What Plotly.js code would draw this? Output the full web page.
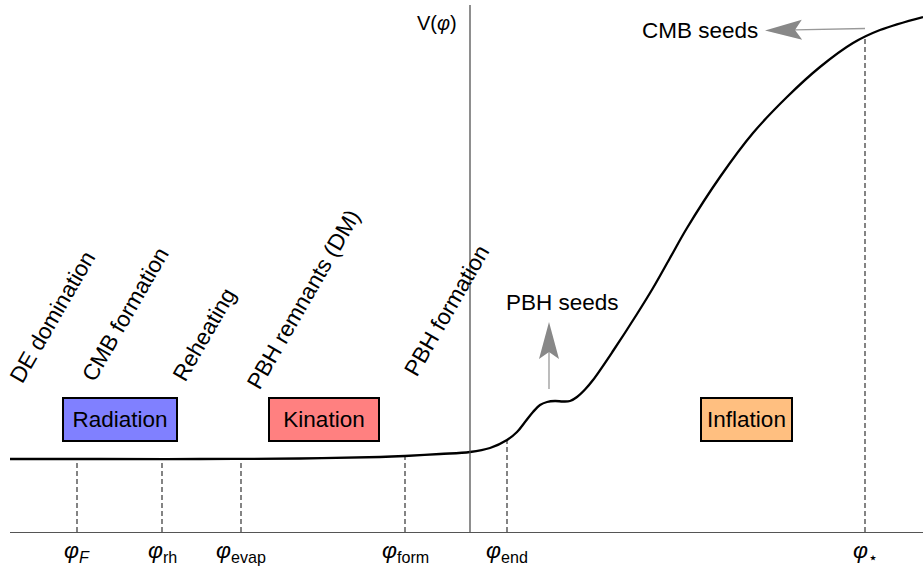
<!DOCTYPE html>
<html>
<head>
<meta charset="utf-8">
<script src="https://cdn.plot.ly/plotly-3.0.1.min.js"></script>
<style>html,body{margin:0;padding:0;background:#fff}#chart{width:923px;height:566px}</style>
</head>
<body>
<div id="chart"></div>
<script>
// ---- data (field value phi, potential V above the phi axis) ----
const phi = [10, 100, 200, 300, 380, 405, 440, 470, 490, 507, 517, 525, 533, 540, 547, 555, 563, 570, 577, 585, 593, 613, 637, 653, 670, 687, 720, 753, 787, 820, 853, 880, 923];
const V   = [73, 73, 73, 73.5, 75, 76, 78, 80, 84, 92, 100, 110, 120, 127, 130, 131, 130.5, 131, 135, 142.5, 152, 181, 218, 244, 274, 304, 355, 399, 435, 465, 489, 502, 515];

const tickPhi  = [77, 162, 241, 405, 507, 865];
const tickV    = [73, 73, 73, 76, 92, 494];
const tickText = ['<i>φ</i><sub><i>F</i></sub>', '<i>φ</i><sub>rh</sub>', '<i>φ</i><sub>evap</sub>',
                  '<i>φ</i><sub>form</sub>', '<i>φ</i><sub>end</sub>', '<i>φ</i><sub>⋆</sub>'];

const eventLabels = ['DE domination', 'CMB formation', 'Reheating', 'PBH remnants (DM)', 'PBH formation'];
const eraLabels   = ['Radiation', 'Kination', 'Inflation'];
const axisLabel   = 'V(<i>φ</i>)';
const seedLabels  = ['PBH seeds', 'CMB seeds'];

// ---- layout helpers ----
const FONT = 'Liberation Sans, Arial, Helvetica, sans-serif';
const VTOP = 532;
const eventPos = [[10.5, 150], [82, 152], [173, 152], [247, 144], [405, 157]];
const eraPos = [[119.5, 113], [323.5, 113], [746.5, 113]];
const eraColor = ['#8080ff', '#ff8080', '#ffbf80'];
const eraWidth = [112, 108, 89];

// dashed guides from the axis up to the curve
const gx = [], gy = [];
tickPhi.forEach((p, i) => { gx.push(p, p, null); gy.push(0, tickV[i], null); });

const traces = [
  {x: gx, y: gy, mode: 'lines', line: {color: '#333', width: 1.2, dash: '5px,3px'}, hoverinfo: 'skip', showlegend: false},
  {x: phi, y: V, mode: 'lines', line: {color: '#000', width: 2.3, shape: 'spline', smoothing: 1}, hoverinfo: 'skip', showlegend: false}
];

function arrow(tail, tip) {
  const dx = tip[0] - tail[0], dy = tip[1] - tail[1];
  const L = Math.hypot(dx, dy), ux = dx / L, uy = dy / L, nx = -uy, ny = ux;
  const len = 37, hw = 10, notch = 7;
  const bx = tip[0] - len * ux, by = tip[1] - len * uy;
  const mx = tip[0] - (len - notch) * ux, my = tip[1] - (len - notch) * uy;
  return [
    {type: 'line', xref: 'x', yref: 'y', x0: tail[0], y0: tail[1], x1: mx, y1: my, line: {color: '#999', width: 1.3}},
    {type: 'path', xref: 'x', yref: 'y',
     path: `M${tip[0]},${tip[1]} L${bx + hw * nx},${by + hw * ny} L${mx},${my} L${bx - hw * nx},${by - hw * ny} Z`,
     fillcolor: '#888', line: {width: 0}}
  ];
}

const shapes = [
  {type: 'line', xref: 'x', yref: 'y', x0: 470, x1: 470, y0: 0, y1: VTOP - 5, line: {color: '#444', width: 1.2}},
  ...arrow([549, VTOP - 389], [549, VTOP - 322]),
  ...arrow([865, VTOP - 28.5], [765, VTOP - 30.5])
];

const annotations = [];
eventLabels.forEach((t, i) => annotations.push({
  text: t, x: eventPos[i][0], y: eventPos[i][1], xref: 'x', yref: 'y', xanchor: 'left', yanchor: 'bottom',
  xshift: -8, yshift: -8,
  textangle: -60, showarrow: false, font: {family: FONT, size: 22.5, color: '#000'}
}));
eraLabels.forEach((t, i) => annotations.push({
  text: t, x: eraPos[i][0], y: eraPos[i][1], xref: 'x', yref: 'y', xanchor: 'center', yanchor: 'middle',
  showarrow: false, bgcolor: eraColor[i], bordercolor: '#000', borderwidth: 2, borderpad: 0,
  width: eraWidth[i], height: 41, font: {family: FONT, size: 22.5, color: '#000'}
}));
tickPhi.forEach((p, i) => annotations.push({
  text: tickText[i], x: p, y: 0, xref: 'x', yref: 'y', xanchor: 'center', yanchor: 'middle', yshift: -19,
  showarrow: false, font: {family: FONT, size: 23, color: '#000'}
}));
annotations.push({text: axisLabel, x: 437, y: VTOP - 23, xref: 'x', yref: 'y', xanchor: 'center', yanchor: 'middle',
  showarrow: false, font: {family: FONT, size: 20, color: '#000'}});
annotations.push({text: seedLabels[0], x: 562, y: VTOP - 302, xref: 'x', yref: 'y', xanchor: 'center', yanchor: 'middle',
  showarrow: false, font: {family: FONT, size: 22.5, color: '#000'}});
annotations.push({text: seedLabels[1], x: 700, y: VTOP - 30, xref: 'x', yref: 'y', xanchor: 'center', yanchor: 'middle',
  showarrow: false, font: {family: FONT, size: 22.5, color: '#000'}});

const layout = {
  width: 923, height: 566,
  margin: {l: 10, r: 0, t: 0, b: 34, pad: 0},
  paper_bgcolor: '#fff', plot_bgcolor: '#fff',
  showlegend: false,
  xaxis: {range: [10, 923], showgrid: false, zeroline: false, showline: true, linecolor: '#555', linewidth: 1.2,
          showticklabels: false, ticks: '', fixedrange: true},
  yaxis: {range: [0, VTOP], visible: false, fixedrange: true},
  shapes: shapes,
  annotations: annotations,
  font: {family: FONT}
};

Plotly.newPlot('chart', traces, layout, {displayModeBar: false, staticPlot: true});
</script>
</body>
</html>
